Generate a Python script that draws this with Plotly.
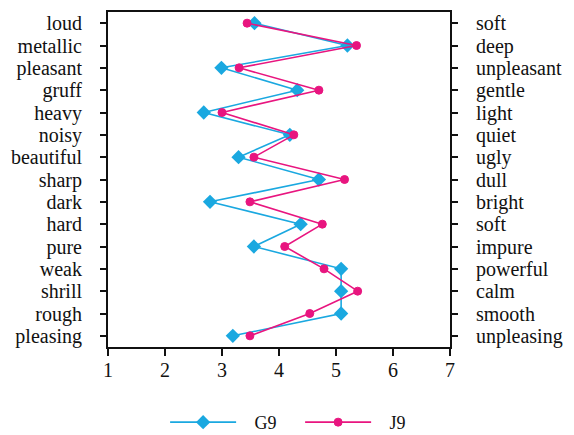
import plotly.graph_objects as go

left_labels = ["loud", "metallic", "pleasant", "gruff", "heavy", "noisy", "beautiful",
               "sharp", "dark", "hard", "pure", "weak", "shrill", "rough", "pleasing"]
right_labels = ["soft", "deep", "unpleasant", "gentle", "light", "quiet", "ugly",
                "dull", "bright", "soft", "impure", "powerful", "calm", "smooth", "unpleasing"]
g9 = [3.57, 5.20, 2.99, 4.32, 2.68, 4.19, 3.29, 4.70, 2.79, 4.38, 3.56, 5.09, 5.09, 5.09, 3.19]
j9 = [3.44, 5.36, 3.30, 4.70, 3.00, 4.26, 3.56, 5.15, 3.49, 4.76, 4.10, 4.79, 5.38, 4.54, 3.49]
x_ticks = [1, 2, 3, 4, 5, 6, 7]

idx = list(range(len(left_labels)))
BLUE = "#1aa8e0"
PINK = "#e8157f"
FONT = "'Liberation Serif', 'Times New Roman', serif"

fig = go.Figure()
fig.add_trace(go.Scatter(x=g9, y=idx, mode="lines+markers", name="\u00a0\u00a0\u00a0G9",
                         line=dict(color=BLUE, width=1.6),
                         marker=dict(symbol="diamond", size=11, color=BLUE)))
fig.add_trace(go.Scatter(x=j9, y=idx, mode="lines+markers", name="\u00a0\u00a0\u00a0J9",
                         line=dict(color=PINK, width=1.6),
                         marker=dict(symbol="circle", size=8, color=PINK,
                                     line=dict(color=PINK, width=1))))
fig.add_trace(go.Scatter(x=[None], y=[None], yaxis="y2", showlegend=False, hoverinfo="skip"))

yr = [len(idx) - 0.5, -0.5]
fig.update_layout(
    width=574, height=435,
    margin=dict(l=100, r=132, t=2, b=93),
    plot_bgcolor="white", paper_bgcolor="white",
    font=dict(family=FONT, size=20, color="#111"),
    xaxis=dict(range=[1, 7], tickvals=x_ticks, ticks="outside", ticklen=7, tickwidth=1.5,
               showline=True, linecolor="#111", linewidth=2, mirror=True,
               showgrid=False, zeroline=False, tickcolor="#111", ticklabelstandoff=-3),
    yaxis=dict(range=yr, tickvals=idx, ticktext=left_labels, ticks="outside", ticklen=6,
               tickwidth=1.5, tickcolor="#111", showline=True, linecolor="#111", linewidth=2,
               showgrid=False, zeroline=False, ticklabelstandoff=14),
    yaxis2=dict(range=yr, tickvals=idx, ticktext=right_labels, overlaying="y", side="right",
                ticks="outside", ticklen=6, tickwidth=1.5, tickcolor="#111", showline=True,
                linecolor="#111", linewidth=2, showgrid=False, zeroline=False,
                ticklabelstandoff=14),
    legend=dict(orientation="h", x=0.167, xanchor="left", y=-0.17, yanchor="top",
                font=dict(family=FONT, size=18), itemwidth=66, entrywidth=54),
    showlegend=True,
)

fig.write_html("out.html")
